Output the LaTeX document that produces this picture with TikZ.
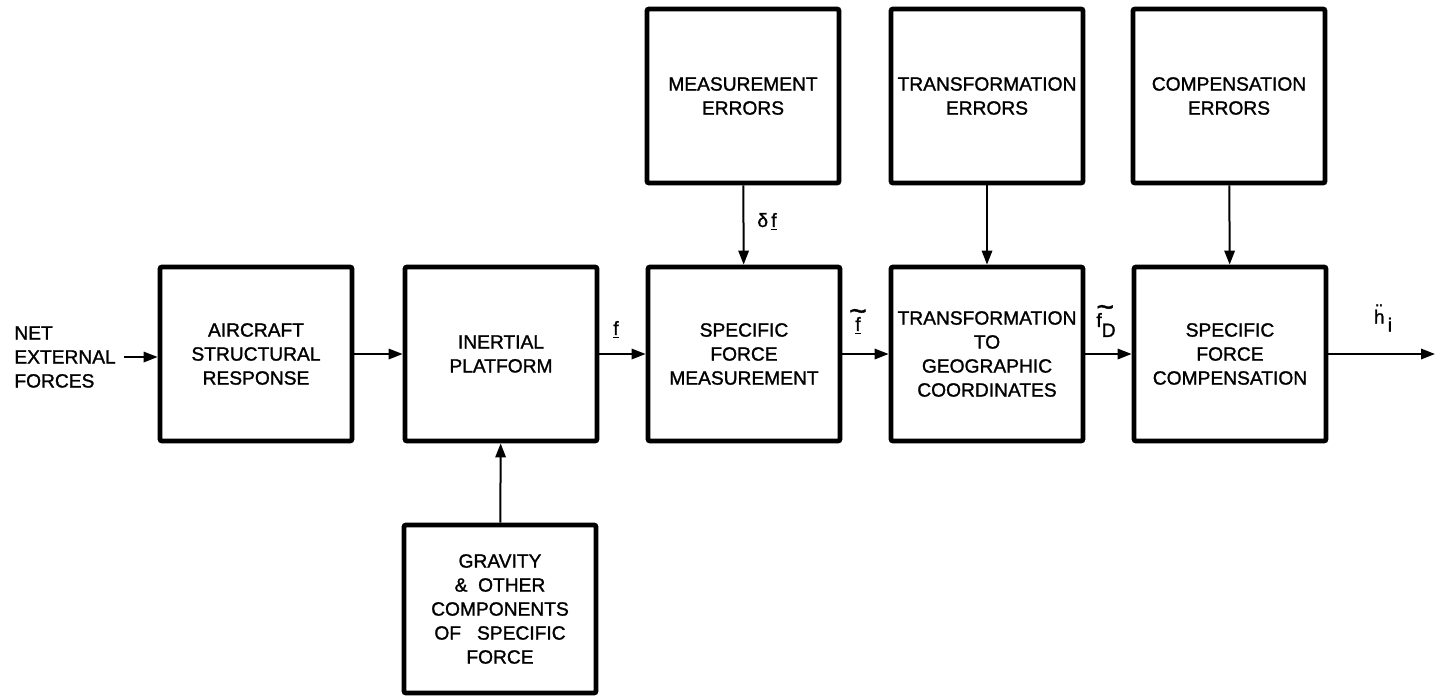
\documentclass[tikz,border=0pt]{standalone}
\usepackage{fontspec}
\setmainfont{Liberation Sans}[FakeBold=1.3]
\usetikzlibrary{arrows.meta}
\newcommand{\lblfont}{\fontsize{9.6}{12}\selectfont}
\newcommand{\bigtilde}{{\fontsize{15}{12}\selectfont\textasciitilde}}
\begin{document}
\begin{tikzpicture}[x=0.5pt,y=-0.5pt,
  blk/.style={draw, line width=2.4pt, rounded corners=1pt, minimum width=96pt, minimum height=87pt, inner sep=0pt, align=center, font=\lblfont},
  arr/.style={line width=1pt, -{Triangle[length=7pt,width=5.2pt]}},
  lab/.style={inner sep=0pt, font=\lblfont, align=center}]
\useasboundingbox (0,0) rectangle (1435,697);
% main row
\node[blk] (air)   at (256,354) {AIRCRAFT\\STRUCTURAL\\RESPONSE};
\node[blk] (iner)  at (501,354) {INERTIAL\\PLATFORM};
\node[blk] (sfm)   at (744,354) {SPECIFIC\\FORCE\\MEASUREMENT};
\node[blk] (trans) at (987,354) {TRANSFORMATION\\TO\\GEOGRAPHIC\\COORDINATES};
\node[blk] (comp)  at (1230,354) {SPECIFIC\\FORCE\\COMPENSATION};
% top row
\node[blk] (meas)  at (743,96) {MEASUREMENT\\ERRORS};
\node[blk] (terr)  at (987,96) {TRANSFORMATION\\ERRORS};
\node[blk] (cerr)  at (1229,96) {COMPENSATION\\ERRORS};
% gravity
\node[blk, minimum height=84pt] (grav) at (500,609) {GRAVITY\\\&\ \ OTHER\\COMPONENTS\\OF\ \ \ SPECIFIC\\FORCE};
% input text
\node[lab, anchor=west, align=left] (net) at (14,357) {NET\\EXTERNAL\\FORCES};
\coordinate (out) at (1435,354);
% connectors
\draw[arr] ([xshift=4pt]net.east) -- (air.west |- net.east);
\draw[arr] (air) -- (iner);
\draw[arr] (iner) -- (sfm);
\draw[arr] (sfm) -- (trans);
\draw[arr] (trans) -- (comp);
\draw[arr] (comp.east) -- (out);
\draw[arr] (meas) -- (sfm);
\draw[arr] (terr) -- (trans);
\draw[arr] (cerr) -- (comp);
\draw[arr] (grav) -- (iner);
% labels
\node[lab] (lf)  at (616,330) {\underline{f}};
\node[lab] (lft) at (858,322) {\bigtilde\\[-7pt]\underline{f}};
\node[lab, align=left] (lfd) at (1106,321) {\bigtilde\\[-7pt]f\raisebox{-5pt}{D}};
\node[lab, align=left] (lh)  at (1383,318) {\makebox[5.3pt]{¨}\\[-9pt]h\,\raisebox{-4pt}{i}};
\node[lab] (ldf) at (767,222) {δ\,\underline{f}};
\end{tikzpicture}
\end{document}
